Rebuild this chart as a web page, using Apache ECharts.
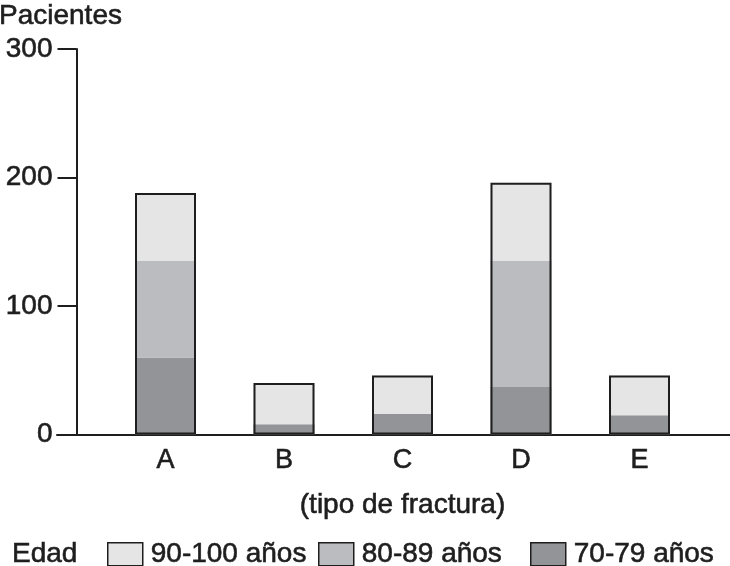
<!DOCTYPE html>
<html>
<head>
<meta charset="utf-8">
<script src="https://cdn.jsdelivr.net/npm/echarts@6/dist/echarts.min.js"></script>
<style>html,body{margin:0;padding:0;background:#fff}#c{width:730px;height:566px}</style>
</head>
<body>
<div id="c"></div>
<script>
const categories = ['A', 'B', 'C', 'D', 'E'];
const edad7079 = [60, 8, 16, 37, 15];
const edad8089 = [75, 0, 0, 98, 0];
const edad90100 = [53, 32, 30, 61, 31];
const yTicks = [0, 100, 200, 300];
const seriesNames = ['90-100 años', '80-89 años', '70-79 años'];

const totals = categories.map((_, i) => edad7079[i] + edad8089[i] + edad90100[i]);
const FONT = '"Liberation Sans", Arial, Helvetica, sans-serif';
const INK = '#1e1e1e';
const colors = {'90-100 años': '#e5e5e6', '80-89 años': '#bbbcbf', '70-79 años': '#939497'};
const heavy = {textBorderColor: INK, textBorderWidth: 0.6};

const chart = echarts.init(document.getElementById('c'), null, {renderer: 'canvas'});
const legendPos = [107, 318, 530];
chart.setOption({
  animation: false,
  backgroundColor: '#fff',
  textStyle: {fontFamily: FONT, color: INK},
  title: [
    {text: 'Pacientes', left: -1, top: 2, padding: 0,
     textStyle: Object.assign({fontFamily: FONT, fontSize: 28, fontWeight: 'normal', color: INK}, heavy)},
    {text: 'Edad', left: 12, top: 540, padding: 0,
     textStyle: Object.assign({fontFamily: FONT, fontSize: 28, fontWeight: 'normal', color: INK}, heavy)}
  ],
  legend: seriesNames.map((n, i) => ({
    data: [n], left: legendPos[i], top: 540, padding: 0,
    itemWidth: 35, itemHeight: 23, icon: 'rect',
    itemStyle: {borderColor: INK, borderWidth: 1.5},
    textStyle: Object.assign({fontFamily: FONT, fontSize: 28, color: INK, padding: [0, 0, 0, 3]}, heavy),
    selectedMode: false
  })),
  grid: [
    {left: 57, right: 0, top: 49, bottom: 131.5},
    {left: 106.25, right: 31.25, top: 49, bottom: 131.5}
  ],
  xAxis: [
    {type: 'value', gridIndex: 0, min: 0, max: 1,
     axisLine: {show: true, onZero: false, lineStyle: {color: INK, width: 2}},
     axisTick: {show: false}, axisLabel: {show: false}, splitLine: {show: false}},
    {type: 'category', gridIndex: 1, data: categories,
     axisLine: {show: false}, axisTick: {show: false},
     axisLabel: Object.assign({fontFamily: FONT, fontSize: 27, color: INK, margin: 13}, heavy),
     name: '(tipo de fractura)', nameLocation: 'middle', nameGap: 57,
     nameTextStyle: Object.assign({fontFamily: FONT, fontSize: 28, color: INK}, heavy)}
  ],
  yAxis: [
    {type: 'value', gridIndex: 0, min: yTicks[0], max: yTicks[yTicks.length - 1], interval: 100,
     offset: -19.5,
     axisLine: {show: true, lineStyle: {color: INK, width: 2}},
     axisTick: {show: true, length: 19, lineStyle: {color: INK, width: 2}},
     axisLabel: Object.assign({fontFamily: FONT, fontSize: 28, color: INK, margin: 24}, heavy),
     splitLine: {show: false}},
    {type: 'value', gridIndex: 1, min: 0, max: 300, show: false}
  ],
  series: [
    {name: '70-79 años', type: 'bar', stack: 'edad', xAxisIndex: 1, yAxisIndex: 1,
     data: edad7079, barWidth: 61, barGap: '-100%', itemStyle: {color: colors['70-79 años']}},
    {name: '80-89 años', type: 'bar', stack: 'edad', xAxisIndex: 1, yAxisIndex: 1,
     data: edad8089, barWidth: 61, barGap: '-100%', itemStyle: {color: colors['80-89 años']}},
    {name: '90-100 años', type: 'bar', stack: 'edad', xAxisIndex: 1, yAxisIndex: 1,
     data: edad90100, barWidth: 61, barGap: '-100%', itemStyle: {color: colors['90-100 años']}},
    {name: 'contorno', type: 'bar', xAxisIndex: 1, yAxisIndex: 1, z: 5, silent: true,
     data: totals, barWidth: 61, barGap: '-100%',
     itemStyle: {color: 'rgba(0,0,0,0)', borderColor: INK, borderWidth: 2}}
  ]
});
</script>
</body>
</html>
